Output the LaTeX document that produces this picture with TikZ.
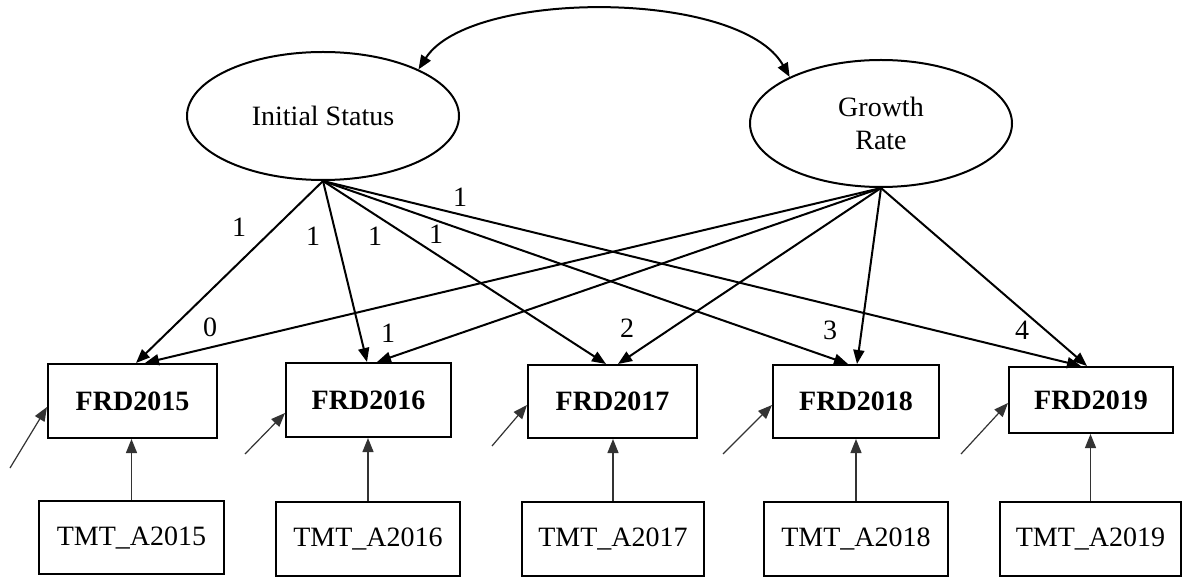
\documentclass[tikz,border=0pt]{standalone}
\usepackage{fontspec}
\setmainfont{Liberation Serif}
\usetikzlibrary{shapes.geometric,arrows.meta,calc}
\begin{document}
\begin{tikzpicture}[x=0.5pt,y=-0.5pt,
 tip/.tip={Triangle[length=7pt,width=5.5pt]},
 latent/.style={ellipse,draw,line width=1pt,inner sep=0pt,align=center,font=\fontsize{14}{16.5}\selectfont},
 obs/.style={rectangle,draw,line width=1pt,inner sep=0pt,font=\bfseries\fontsize{14}{17}\selectfont},
 covar/.style={rectangle,draw,line width=1pt,inner sep=0pt,font=\fontsize{14}{17}\selectfont},
 load/.style={line width=1pt,-tip},
 resid/.style={line width=0.6pt,draw=black!80,-tip},
 lab/.style={inner sep=0pt,font=\fontsize{14}{17}\selectfont}]
\useasboundingbox (0,0) rectangle (1184,577);
\fill[white] (0,0) rectangle (1184,577);

\node[latent,minimum width=136pt,minimum height=64pt] (is) at (323,116) {Initial Status};
\node[latent,minimum width=131pt,minimum height=63.5pt] (gr) at (881,123.5) {Growth\\Rate};

\node[obs,minimum width=84.5pt,minimum height=37pt] (f1) at (132.5,401) {FRD2015};
\node[obs,minimum width=82.5pt,minimum height=37pt] (f2) at (368.5,400) {FRD2016};
\node[obs,minimum width=84.5pt,minimum height=36.5pt] (f3) at (612.5,401.5) {FRD2017};
\node[obs,minimum width=83pt,minimum height=36.5pt] (f4) at (856,401.5) {FRD2018};
\node[obs,minimum width=82pt,minimum height=33pt] (f5) at (1091,400) {FRD2019};

\node[covar,minimum width=92.5pt,minimum height=36.5pt] (t1) at (131.5,537.5) {TMT\_A2015};
\node[covar,minimum width=92pt,minimum height=37pt] (t2) at (368,539) {TMT\_A2016};
\node[covar,minimum width=91pt,minimum height=37pt] (t3) at (613,539) {TMT\_A2017};
\node[covar,minimum width=92pt,minimum height=37pt] (t4) at (856,539) {TMT\_A2018};
\node[covar,minimum width=90.5pt,minimum height=37pt] (t5) at (1090.5,539) {TMT\_A2019};

% covariance
\draw[line width=1pt,tip-tip]
  (is.26) .. controls (470,-11) and (740,-11) .. (gr.153);

% loadings from Initial Status
\draw[load] (is.south) -- ($(f1.north)+(3.5,0)$);
\draw[load] (is.south) -- ($(f2.north)+(-1.5,0)$);
\draw[load] (is.south) -- ($(f3.north)+(-6.5,0)$);
\draw[load] (is.south) -- ($(f4.north)+(-8,0)$);
\draw[load] (is.south) -- ($(f5.north)+(-10,0)$);

% loadings from Growth Rate
\draw[load] (gr.south) -- ($(f1.north)+(12.5,0)$);
\draw[load] (gr.south) -- ($(f2.north)+(8.5,0)$);
\draw[load] (gr.south) -- ($(f3.north)+(5.5,0)$);
\draw[load] (gr.south) -- ($(f4.north)+(1,0)$);
\draw[load] (gr.south) -- ($(f5.north)+(-4,0)$);

% labels
\node[lab] (l1) at (239,227) {1};
\node[lab] (l2) at (313,236) {1};
\node[lab] (l3) at (375,236) {1};
\node[lab] (l4) at (436,234) {1};
\node[lab] (l5) at (460,197) {1};
\node[lab] (g1) at (210,327) {0};
\node[lab] (g2) at (388,333) {1};
\node[lab] (g3) at (627,328) {2};
\node[lab] (g4) at (830,330) {3};
\node[lab] (g5) at (1022,330) {4};

% covariate effects
\draw[resid] (t1.north) -- (t1.north |- f1.south);
\draw[resid] (t2.north) -- (t2.north |- f2.south);
\draw[resid] (t3.north) -- (t3.north |- f3.south);
\draw[resid] (t4.north) -- (t4.north |- f4.south);
\draw[resid] (t5.north) -- (t5.north |- f5.south);

% residuals
\coordinate (e1) at (10,468);
\coordinate (e2) at (245,454);
\coordinate (e3) at (492,446);
\coordinate (e4) at (723,454);
\coordinate (e5) at (961,454);
\draw[resid] (e1) -- ($(f1.west)+(0,6)$);
\draw[resid] (e2) -- ($(f2.west)+(0,13)$);
\draw[resid] (e3) -- ($(f3.west)+(0,3.5)$);
\draw[resid] (e4) -- ($(f4.west)+(0,3.5)$);
\draw[resid] (e5) -- ($(f5.west)+(0,3)$);
\end{tikzpicture}
\end{document}
